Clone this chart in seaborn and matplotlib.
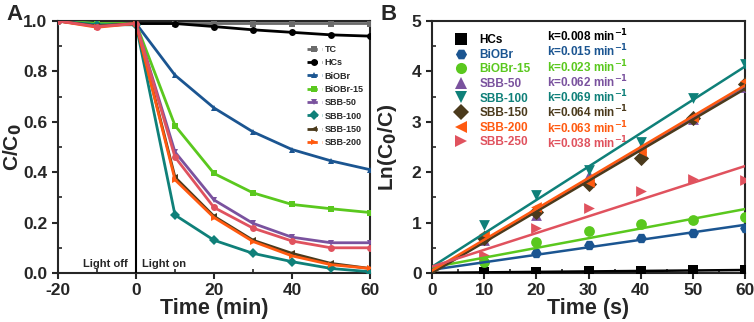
import numpy as np
import pandas as pd
import matplotlib.pyplot as plt
import seaborn as sns
from matplotlib.ticker import MultipleLocator
from matplotlib.lines import Line2D

sns.set_style('ticks')
plt.rcParams['font.family'] = ['Liberation Sans', 'DejaVu Sans']
plt.rcParams['font.weight'] = 'bold'
plt.rcParams['axes.unicode_minus'] = False
plt.rcParams['mathtext.default'] = 'bf'

# panel A: C/C0 vs time (min)
time_a = [-20, -10, 0, 10, 20, 30, 40, 50, 60]
tc = [1.0, 0.99, 0.99, 0.99, 0.99, 0.99, 0.99, 0.99, 0.99]
hcs_a = [1.0, 0.985, 0.99, 0.99, 0.978, 0.965, 0.955, 0.945, 0.94]
biobr_a = [1.0, 0.985, 0.99, 0.785, 0.655, 0.56, 0.49, 0.445, 0.41]
biobr15_a = [1.0, 0.99, 0.99, 0.585, 0.395, 0.318, 0.272, 0.255, 0.24]
sbb50_a = [1.0, 0.98, 0.99, 0.48, 0.29, 0.197, 0.142, 0.12, 0.12]
sbb100_a = [1.0, 0.985, 0.985, 0.23, 0.13, 0.078, 0.045, 0.018, 0.005]
sbb150_a = [1.0, 0.98, 0.99, 0.38, 0.225, 0.13, 0.078, 0.038, 0.018]
sbb200_a = [1.0, 0.975, 0.99, 0.37, 0.22, 0.125, 0.068, 0.033, 0.018]
sbb250_a = [1.0, 0.978, 0.99, 0.46, 0.26, 0.178, 0.127, 0.10, 0.10]

# panel B: ln(C0/C) vs time
time_b = [0, 10, 20, 30, 40, 50, 60]
hcs_b = [0, 0.02, 0.02, 0.03, 0.04, 0.05, 0.06]
biobr_b = [0, 0.22, 0.4, 0.55, 0.7, 0.8, 0.9]
biobr15_b = [0, 0.22, 0.62, 0.83, 0.98, 1.06, 1.12]
sbb50_b = [0, 0.65, 1.15, 1.95, 2.5, 3.05, 3.7]
sbb100_b = [0, 0.95, 1.55, 2.05, 2.6, 3.47, 4.15]
sbb150_b = [0, 0.7, 1.22, 1.77, 2.28, 3.07, 3.75]
sbb200_b = [0, 0.78, 1.3, 1.8, 2.42, 3.1, 3.8]
sbb250_b = [0, 0.35, 0.9, 1.28, 1.62, 1.87, 1.85]
k_labels = ['k=0.008', 'k=0.015', 'k=0.023', 'k=0.062', 'k=0.069', 'k=0.064', 'k=0.063', 'k=0.038']

c = {'TC': '#6b6b6b', 'HCs': '#000000', 'BiOBr': '#1b5591', 'BiOBr-15': '#5ac81e',
     'SBB-50': '#7a529e', 'SBB-100': '#0f8079', 'SBB-150': '#4b3a1c',
     'SBB-200': '#ff5a10', 'SBB-250': '#e0525e'}

fig = plt.figure(figsize=(7.54, 3.22), dpi=100)
ax1 = fig.add_axes([58/754, 1-273/322, 312/754, 252/322])
ax2 = fig.add_axes([432/754, 1-273/322, 313/754, 252/322])

series_a = [('TC', tc, 's'), ('HCs', hcs_a, 'o'), ('BiOBr', biobr_a, '^'),
            ('BiOBr-15', biobr15_a, 's'), ('SBB-50', sbb50_a, 'v'),
            ('SBB-100', sbb100_a, 'D'), ('SBB-150', sbb150_a, '<'),
            ('SBB-200', sbb200_a, '>'), ('SBB-250', sbb250_a, 'o')]
handles = []
for name, vals, m in series_a:
    sns.lineplot(x=time_a, y=vals, ax=ax1, color=c[name], marker=m, markersize=5,
                 markeredgewidth=0, linewidth=2, zorder=3)
    if name != 'SBB-250':
        handles.append(Line2D([], [], color=c[name], marker=m, markersize=5,
                              markeredgewidth=0, linewidth=2, linestyle='--', label=name))
ax1.axvline(0, color='black', linewidth=1.5, zorder=4)
ax1.text(-2, 0.022, 'Light off', ha='right', fontsize=8, fontweight='bold')
ax1.text(1.5, 0.022, 'Light on', ha='left', fontsize=8, fontweight='bold')
ax1.legend(handles=handles, loc='upper right', bbox_to_anchor=(1.0, 0.93), frameon=False,
           handlelength=1.7, labelspacing=0.48, handletextpad=0.3, borderaxespad=0.3,
           prop={'weight': 'bold', 'size': 6.5})
ax1.set_xlim(-20, 60)
ax1.set_ylim(0, 1.0)
ax1.xaxis.set_major_locator(MultipleLocator(20))
ax1.xaxis.set_minor_locator(MultipleLocator(10))
ax1.yaxis.set_major_locator(MultipleLocator(0.2))
ax1.yaxis.set_minor_locator(MultipleLocator(0.1))
ax1.set_xlabel('Time (min)', fontsize=15.5, fontweight='bold', labelpad=0)
ax1.set_ylabel('C/C$_0$', fontsize=15, fontweight='bold')
ax1.yaxis.set_label_coords(-0.11, 0.5)

series_b = [('HCs', hcs_b, 's'), ('BiOBr', biobr_b, 'H'), ('BiOBr-15', biobr15_b, 'o'),
            ('SBB-50', sbb50_b, '^'), ('SBB-100', sbb100_b, 'v'), ('SBB-150', sbb150_b, 'D'),
            ('SBB-200', sbb200_b, '<'), ('SBB-250', sbb250_b, '>')]
handles_b = []
for name, vals, m in series_b:
    sns.scatterplot(x=time_b[1:], y=vals[1:], ax=ax2, color=c[name], marker=m, s=60,
                    linewidth=0, zorder=3)
    sns.regplot(x=time_b, y=vals, ax=ax2, scatter=False, ci=None, color=c[name],
                line_kws={'linewidth': 1.8, 'zorder': 4})
    handles_b.append(Line2D([], [], color=c[name], marker=m, markersize=8,
                            markeredgewidth=0, linestyle='', label=name))
leg = ax2.legend(handles=handles_b, loc='upper left', bbox_to_anchor=(0.02, 0.99),
                 frameon=False, handletextpad=0.6, labelspacing=0.22,
                 prop={'weight': 'bold', 'size': 8.5})
for t, (name, _, _) in zip(leg.get_texts(), series_b):
    t.set_color(c[name])
for i, (name, _, _) in enumerate(series_b):
    ax2.text(0.367, 0.94 - i * 0.0606, k_labels[i] + ' min$^{-1}$',
             transform=ax2.transAxes, color=c[name], fontsize=8.5, fontweight='bold',
             va='center')
ax2.set_xlim(0, 60)
ax2.set_ylim(0, 5)
ax2.xaxis.set_major_locator(MultipleLocator(10))
ax2.xaxis.set_minor_locator(MultipleLocator(5))
ax2.yaxis.set_major_locator(MultipleLocator(1))
ax2.yaxis.set_minor_locator(MultipleLocator(0.5))
ax2.set_xlabel('Time (s)', fontsize=15.5, fontweight='bold', labelpad=0)
ax2.set_ylabel('Ln(C$_0$/C)', fontsize=15, fontweight='bold')
ax2.yaxis.set_label_coords(-0.105, 0.5)

for ax in (ax1, ax2):
    for s in ax.spines.values():
        s.set_linewidth(1.5)
        s.set_visible(True)
    ax.tick_params(which='major', direction='out', length=4, width=1.5, labelsize=12.5)
    ax.tick_params(which='minor', direction='in', length=3, width=1.2)
    for lab in ax.get_xticklabels() + ax.get_yticklabels():
        lab.set_fontweight('bold')

fig.text(6/754, 1-14/322, 'A', fontsize=16, fontweight='bold', va='center')
fig.text(381/754, 1-14/322, 'B', fontsize=16, fontweight='bold', va='center')

plt.savefig('out.png', dpi=100)
